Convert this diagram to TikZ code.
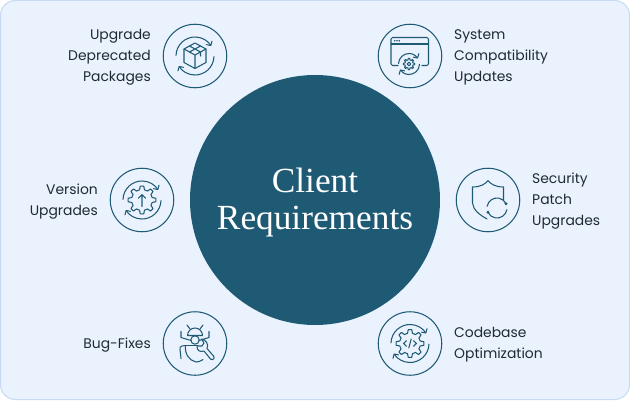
\documentclass[tikz,border=0pt]{standalone}
\usepackage{fontspec}
\usetikzlibrary{arrows.meta}
\newfontfamily\labfont{Poppins}
\newfontfamily\titlefont{Liberation Serif}
\definecolor{teal1}{HTML}{1F5A75}
\definecolor{panel}{HTML}{EAF2FD}
\definecolor{panelb}{HTML}{C6DAF6}
\definecolor{ink}{HTML}{1F2A33}
\newcommand{\cyc}[1]{%
  \draw[ic,-{Straight Barb[length=3pt,width=6.5pt,round]}] (178:#1) arc[start angle=178,end angle=32,radius=#1];
  \draw[ic,-{Straight Barb[length=3pt,width=6.5pt,round]}] (358:#1) arc[start angle=358,end angle=212,radius=#1];
}
\newcommand{\gear}[3]{%
  \pgfmathsetmacro{\st}{360/#3}
  \draw[ic] (-0.3*\st:#2) foreach \i in {1,...,#3} {
     -- ({(\i-1)*\st-0.16*\st}:#1) -- ({(\i-1)*\st+0.16*\st}:#1) -- ({(\i-1)*\st+0.3*\st}:#2) -- ({\i*\st-0.3*\st}:#2)
  } -- cycle;
}
\tikzset{
  x=1pt,y=1pt,
  ic/.style={draw=teal1,line width=1.05pt,line cap=round,line join=round},
  ring/.style={circle,draw=teal1,line width=1.05pt,minimum size=63.5pt,inner sep=0pt},
  lab/.style={font=\labfont\fontsize{13.9}{21}\selectfont,text=ink,inner sep=0pt},
  labl/.style={lab,align=left,anchor=west},
  labr/.style={lab,align=right,anchor=east},
  ttl/.style={font=\titlefont\fontsize{35.3}{37.5}\selectfont,text=white,inner sep=0pt,anchor=base},
}
\begin{document}
\begin{tikzpicture}
\useasboundingbox (0,0) rectangle (630,400);
\fill[white] (0,0) rectangle (630,400);
\draw[draw=panelb,fill=panel,line width=1pt,rounded corners=15pt] (0.5,0.5) rectangle (629.5,399.5);
\node[circle,fill=teal1,minimum size=250pt,inner sep=0pt] (hub) at (315,200) {};
\node[ttl] (title) at (315,208) {Client};
\node[ttl] (title2) at (315,170.5) {Requirements};

\node[ring] (r1) at (195,344) {};
\node[ring] (r2) at (410,344) {};
\node[ring] (r3) at (142,200) {};
\node[ring] (r4) at (488,200) {};
\node[ring] (r5) at (195,56.5) {};
\node[ring] (r6) at (410,56.5) {};

\node[labr] (t1) at (151,342.5) {Upgrade\\Deprecated\\Packages};
\node[labl] (t2) at (454,342.5) {System\\Compatibility\\Updates};
\node[labr] (t3) at (98,198.5) {Version\\Upgrades};
\node[labl] (t4) at (532,198.5) {Security\\Patch\\Upgrades};
\node[labr] (t5) at (151,55) {Bug-Fixes};
\node[labl] (t6) at (454,55) {Codebase\\Optimization};

% package icon
\begin{scope}[shift={(r1.center)}]
  \cyc{19}
  \draw[ic] (0,13) -- (11,7) -- (11,-6.5) -- (0,-12.5) -- (-11,-6.5) -- (-11,7) -- cycle;
  \draw[ic] (-11,7) -- (0,1) -- (11,7) (0,1) -- (0,-12.5);
  \draw[ic] (-5.5,10) -- (5.5,4) -- (5.5,0) (5.5,10) -- (-5.5,4);
\end{scope}

% window icon
\begin{scope}[shift={(r2.center)}]
  \draw[ic,rounded corners=1.5pt] (-12,-9.5) -- (-19,-9.5) -- (-19,18.5) -- (18.5,18.5) -- (18.5,-9.5) -- (12,-9.5);
  \draw[ic] (-19,12) -- (18.5,12);
  \fill[teal1] (-15.3,15.2) circle (.9pt) (-13,15.2) circle (.9pt) (-10.7,15.2) circle (.9pt);
  \begin{scope}[shift={(-1,-8)}]
    \cyc{10.5}
    \gear{5.6}{4.2}{8}
    \draw[ic] (0,0) circle (1.8pt);
  \end{scope}
\end{scope}

% gear arrow icon
\begin{scope}[shift={(r3.center)}]
  \cyc{19}
  \gear{14}{10.5}{8}
  \draw[ic] (0,-6.5) -- (0,5) (-3.5,1.8) -- (0,5.5) -- (3.5,1.8);
\end{scope}

% shield icon
\begin{scope}[shift={(r4.center)}]
  \draw[ic] (15.5,-0.5) -- (15.5,13) .. controls (8,13) and (3,15.5) .. (0,19.5) .. controls (-3,15.5) and (-8,13) .. (-15.5,13) -- (-15.5,-3) .. controls (-15,-10) and (-8,-15) .. (-1,-19);
  \begin{scope}[shift={(9,-8)}]
    \draw[ic] (170:10) arc[start angle=170,end angle=30,radius=10];
    \draw[ic] (350:10) arc[start angle=350,end angle=210,radius=10];
    \fill[teal1] (25:10) circle (1.6pt) (205:10) circle (1.6pt);
  \end{scope}
\end{scope}

% bug icon
\begin{scope}[shift={(r5.center)}]
  \draw[ic] (-7.5,8) arc[start angle=180,end angle=0,radius=7.5] -- cycle;
  \draw[ic] (-5,14.5) -- (-8,18.5) (5,14.5) -- (8,18.5);
  \draw[ic] (0,3.5) circle (4.2pt);
  \draw[ic] (-4,3) -- (-14,6) -- (-14,12);
  \draw[ic] (4,3) -- (14,6) -- (14,12);
  \draw[ic] (-9.5,-2) -- (-13,-2.5) .. controls (-15,-3) and (-15,-4) .. (-15,-6) -- (-14,-15);
  \draw[ic] (-9.5,-2) .. controls (-10.5,-10) and (-6,-17) .. (1,-18.5) .. controls (3,-18.5) and (5,-18) .. (8,-16);
  \draw[ic] (-9.5,-2) -- (2,-2);
  % wrench
  \draw[ic,fill=panel] (2,-2) .. controls (1.5,-7) and (5,-9) .. (9,-7.5) -- (15.5,-15.5) .. controls (17.5,-17.5) and (20.5,-14.5) .. (18.5,-12.5) -- (12,-5) .. controls (14,-1) and (11,4) .. (6.5,4.5) -- (9,0.5) -- (7,-2.5) -- (3.5,-2.5) -- cycle;
\end{scope}

% code gear icon
\begin{scope}[shift={(r6.center)}]
  \cyc{19}
  \gear{14}{10.5}{8}
  \draw[ic] (-3.5,2.8) -- (-6.5,0) -- (-3.5,-2.8);
  \draw[ic] (3.5,2.8) -- (6.5,0) -- (3.5,-2.8);
  \draw[ic] (1.2,4.5) -- (-1.2,-4.5);
\end{scope}
\end{tikzpicture}
\end{document}
